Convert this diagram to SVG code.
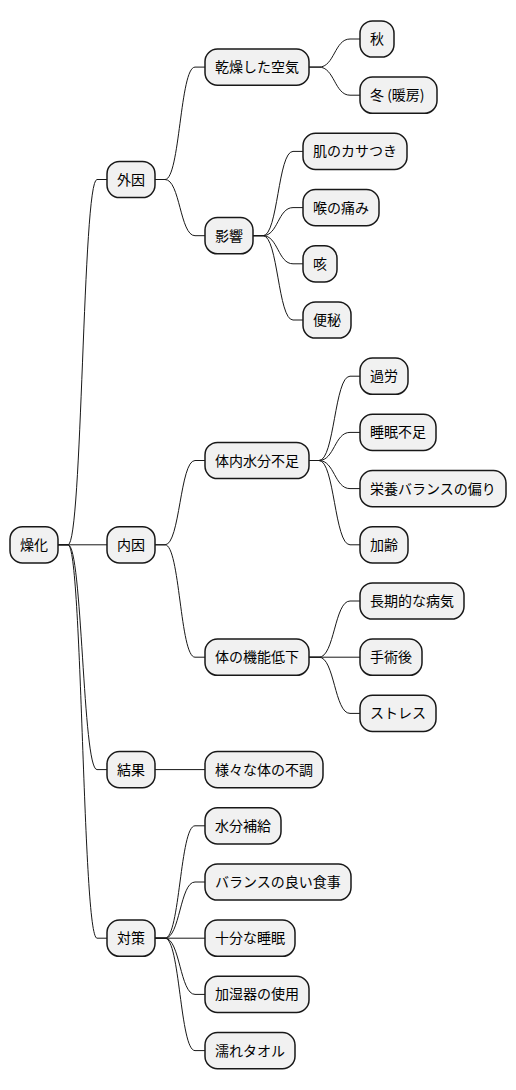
<svg xmlns="http://www.w3.org/2000/svg" width="516" height="1090" viewBox="0 0 516 1090">
<style>
.n rect{fill:#F1F1F1;stroke:#181818;stroke-width:1.5}
.n text{font-family:"Noto Sans CJK JP","Noto Sans",sans-serif;font-size:14px;fill:#000}
.c path{fill:none;stroke:#181818;stroke-width:1}
</style>
<rect width="516" height="1090" fill="#FFFFFF"/>
<g class="c" id="connectors">
<path d="M58,544.8 H68 C82.5,544.8 82.5,179.5 97,179.5 H107"/>
<path d="M58,544.8 H107"/>
<path d="M58,544.8 H68 C82.5,544.8 82.5,769.6 97,769.6 H107"/>
<path d="M58,544.8 H68 C82.5,544.8 82.5,938.2 97,938.2 H107"/>
<path d="M155,179.5 H165 C180,179.5 180,67.1 195,67.1 H205"/>
<path d="M155,179.5 H165 C180,179.5 180,235.7 195,235.7 H205"/>
<path d="M309,67.1 H319 C334.5,67.1 334.5,39 350,39 H360"/>
<path d="M309,67.1 H319 C334.5,67.1 334.5,95.2 350,95.2 H360"/>
<path d="M253,235.7 H263 C278,235.7 278,151.4 293,151.4 H303"/>
<path d="M253,235.7 H263 C278,235.7 278,207.6 293,207.6 H303"/>
<path d="M253,235.7 H263 C278,235.7 278,263.8 293,263.8 H303"/>
<path d="M253,235.7 H263 C278,235.7 278,320 293,320 H303"/>
<path d="M155,544.8 H165 C180,544.8 180,460.5 195,460.5 H205"/>
<path d="M155,544.8 H165 C180,544.8 180,657.2 195,657.2 H205"/>
<path d="M309,460.5 H319 C334.5,460.5 334.5,376.2 350,376.2 H360"/>
<path d="M309,460.5 H319 C334.5,460.5 334.5,432.4 350,432.4 H360"/>
<path d="M309,460.5 H319 C334.5,460.5 334.5,488.6 350,488.6 H360"/>
<path d="M309,460.5 H319 C334.5,460.5 334.5,544.8 350,544.8 H360"/>
<path d="M309,657.2 H319 C334.5,657.2 334.5,601 350,601 H360"/>
<path d="M309,657.2 H360"/>
<path d="M309,657.2 H319 C334.5,657.2 334.5,713.4 350,713.4 H360"/>
<path d="M155,769.6 H205"/>
<path d="M155,938.2 H165 C180,938.2 180,825.8 195,825.8 H205"/>
<path d="M155,938.2 H165 C180,938.2 180,882 195,882 H205"/>
<path d="M155,938.2 H205"/>
<path d="M155,938.2 H165 C180,938.2 180,994.4 195,994.4 H205"/>
<path d="M155,938.2 H165 C180,938.2 180,1050.6 195,1050.6 H205"/>
</g>
<g class="n" id="n-root"><rect x="10" y="526.7" width="48" height="36.2" rx="12.5"/><text x="20" y="549.8">燥化</text></g>
<g class="n" id="n-gaiin"><rect x="107" y="161.4" width="48" height="36.2" rx="12.5"/><text x="117" y="184.5">外因</text></g>
<g class="n" id="n-kansou"><rect x="205" y="49" width="104" height="36.2" rx="12.5"/><text x="215" y="72.1">乾燥した空気</text></g>
<g class="n" id="n-aki"><rect x="360" y="20.9" width="34" height="36.2" rx="12.5"/><text x="370" y="44">秋</text></g>
<g class="n" id="n-fuyu"><rect x="360" y="77.1" width="77" height="36.2" rx="12.5"/><text x="370" y="100.2">冬 (暖房)</text></g>
<g class="n" id="n-eikyou"><rect x="205" y="217.6" width="48" height="36.2" rx="12.5"/><text x="215" y="240.7">影響</text></g>
<g class="n" id="n-hada"><rect x="303" y="133.3" width="104" height="36.2" rx="12.5"/><text x="313" y="156.4">肌のカサつき</text></g>
<g class="n" id="n-nodo"><rect x="303" y="189.5" width="76" height="36.2" rx="12.5"/><text x="313" y="212.6">喉の痛み</text></g>
<g class="n" id="n-seki"><rect x="303" y="245.7" width="34" height="36.2" rx="12.5"/><text x="313" y="268.8">咳</text></g>
<g class="n" id="n-benpi"><rect x="303" y="301.9" width="48" height="36.2" rx="12.5"/><text x="313" y="325">便秘</text></g>
<g class="n" id="n-naiin"><rect x="107" y="526.7" width="48" height="36.2" rx="12.5"/><text x="117" y="549.8">内因</text></g>
<g class="n" id="n-suibun"><rect x="205" y="442.4" width="104" height="36.2" rx="12.5"/><text x="215" y="465.5">体内水分不足</text></g>
<g class="n" id="n-karou"><rect x="360" y="358.1" width="48" height="36.2" rx="12.5"/><text x="370" y="381.2">過労</text></g>
<g class="n" id="n-suimin"><rect x="360" y="414.3" width="76" height="36.2" rx="12.5"/><text x="370" y="437.4">睡眠不足</text></g>
<g class="n" id="n-eiyou"><rect x="360" y="470.5" width="146" height="36.2" rx="12.5"/><text x="370" y="493.6">栄養バランスの偏り</text></g>
<g class="n" id="n-karei"><rect x="360" y="526.7" width="48" height="36.2" rx="12.5"/><text x="370" y="549.8">加齢</text></g>
<g class="n" id="n-kinou"><rect x="205" y="639.1" width="104" height="36.2" rx="12.5"/><text x="215" y="662.2">体の機能低下</text></g>
<g class="n" id="n-chouki"><rect x="360" y="582.9" width="104" height="36.2" rx="12.5"/><text x="370" y="606">長期的な病気</text></g>
<g class="n" id="n-shujutsu"><rect x="360" y="639.1" width="62" height="36.2" rx="12.5"/><text x="370" y="662.2">手術後</text></g>
<g class="n" id="n-stress"><rect x="360" y="695.3" width="76" height="36.2" rx="12.5"/><text x="370" y="718.4">ストレス</text></g>
<g class="n" id="n-kekka"><rect x="107" y="751.5" width="48" height="36.2" rx="12.5"/><text x="117" y="774.6">結果</text></g>
<g class="n" id="n-fuchou"><rect x="205" y="751.5" width="118" height="36.2" rx="12.5"/><text x="215" y="774.6">様々な体の不調</text></g>
<g class="n" id="n-taisaku"><rect x="107" y="920.1" width="48" height="36.2" rx="12.5"/><text x="117" y="943.2">対策</text></g>
<g class="n" id="n-hokyuu"><rect x="205" y="807.7" width="76" height="36.2" rx="12.5"/><text x="215" y="830.8">水分補給</text></g>
<g class="n" id="n-shokuji"><rect x="205" y="863.9" width="146" height="36.2" rx="12.5"/><text x="215" y="887">バランスの良い食事</text></g>
<g class="n" id="n-juubun"><rect x="205" y="920.1" width="90" height="36.2" rx="12.5"/><text x="215" y="943.2">十分な睡眠</text></g>
<g class="n" id="n-kashitsu"><rect x="205" y="976.3" width="104" height="36.2" rx="12.5"/><text x="215" y="999.4">加湿器の使用</text></g>
<g class="n" id="n-towel"><rect x="205" y="1032.5" width="90" height="36.2" rx="12.5"/><text x="215" y="1055.6">濡れタオル</text></g>
</svg>
